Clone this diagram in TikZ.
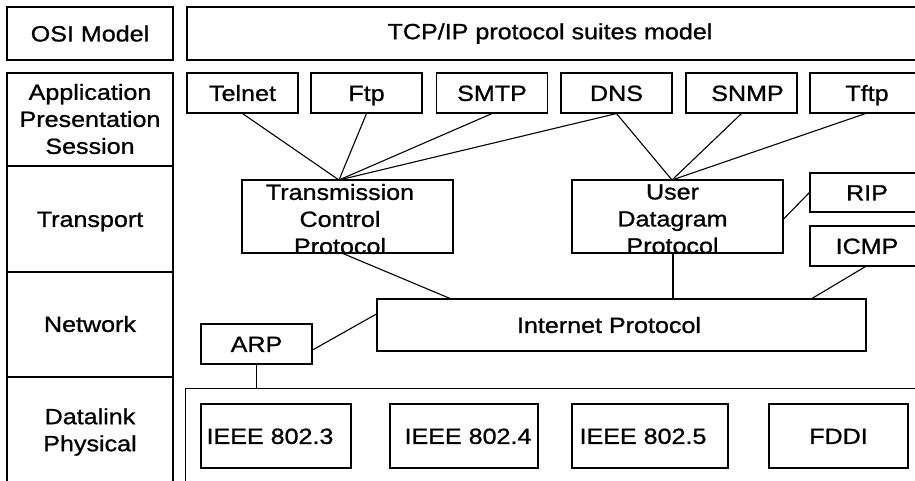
\documentclass[tikz,border=0pt]{standalone}
\usepackage{fontspec}
\setmainfont{Liberation Sans}[FakeStretch=1.14, FakeBold=1]
\usetikzlibrary{calc}
\tikzset{
  box/.style={draw, line width=1.1pt, inner sep=0pt, minimum height=40pt},
  appbox/.style={box, minimum width=111pt, text height=15.8pt, text depth=0pt},
  lanbox/.style={box, minimum width=#1, minimum height=64pt, text height=15.8pt, text depth=0pt},
  txt/.style={inner sep=0pt, align=center},
  link/.style={line width=1.1pt}
}
\begin{document}
\begin{tikzpicture}[x=1pt, y=-1pt, font=\fontsize{22}{27}\selectfont]
\useasboundingbox (0,0) rectangle (915,480);
\clip (0,0) rectangle (915,480);

% header row
\node[box, minimum width=166pt, minimum height=53pt, text height=15.8pt, text depth=0pt] (osi) at (90,33.5) {OSI Model};
\node[box, minimum width=743pt, minimum height=53pt] (suite) at (558.5,33.5) {};
\node[txt] (suitetext) at (550,33.5) {TCP/IP protocol suites model};

% OSI layer column
\draw[line width=1.1pt] (7,73) rectangle (173,500);
\draw[line width=1.1pt] (7,166) -- (173,166) (7,272) -- (173,272) (7,377) -- (173,377);
\node[txt] (l1) at (90,119) {Application\\Presentation\\Session};
\node[txt, text height=15.8pt, text depth=0pt] (l2) at (90,219) {Transport};
\node[txt, text height=15.8pt, text depth=0pt] (l3) at (90,324) {Network};
\node[txt] (l4) at (90,432) {Datalink\\Physical};

% application protocols
\node[appbox] (telnet) at (242.5,93) {Telnet};
\node[appbox] (ftp)    at (366.5,93) {Ftp};
\node[appbox] (smtp)   at (492,93)   {SMTP};
\node[appbox] (dns)    at (616.5,93) {DNS};
\node[appbox] (snmp)   at (741.5,93) {\hspace*{12pt}SNMP};
\node[appbox] (tftp)   at (865.5,93) {\hspace*{3pt}Tftp};

% transport protocols
\node[box, minimum width=211pt, minimum height=73pt] (tcp) at (347.5,216.5) {};
\node[txt] (tcptext) at (340,219) {Transmission\\Control\\Protocol};
\node[box, minimum width=211pt, minimum height=73pt] (udp) at (677.5,216.5) {};
\node[txt] (udptext) at (672.5,219) {User\\Datagram\\Protocol};
\coordinate (tcpin) at (339,180);
\coordinate (udpin) at (672,180);

\node[appbox, minimum height=39pt] (rip)  at (865.5,192.5) {\hspace*{3pt}RIP};
\node[appbox] (icmp) at (865.5,246) {\hspace*{3pt}ICMP};

% network layer
\node[box, minimum width=489pt, minimum height=52pt] (ip) at (621.5,325) {};
\node[txt, text height=15.8pt, text depth=0pt] (iptext) at (609,325) {Internet Protocol};
\node[appbox] (arp) at (256.5,344) {ARP};

% link layer
\node[box, minimum width=745pt, minimum height=120pt, anchor=north west] (lan) at (185,388) {};
\node[lanbox=150pt] (e3) at (276,436)   {\hspace*{-12pt}IEEE 802.3};
\node[lanbox=148pt] (e4) at (464,436)   {\hspace*{8pt}IEEE 802.4};
\node[lanbox=156pt] (e5) at (650,436)   {\hspace*{-14pt}IEEE 802.5};
\node[lanbox=139pt] (fd) at (838.5,436) {FDDI};

% connectors
\draw[link] (telnet.south) -- (tcpin);
\draw[link] (ftp.south) -- (tcpin);
\draw[link] (smtp.south) -- (tcpin);
\draw[link] (dns.south) -- (tcpin);
\draw[link] (dns.south) -- (udpin);
\draw[link] (snmp.south) -- (udpin);
\draw[link] (tftp.south) -- (udpin);
\draw[link] ($(udp.east)+(0,2.5)$) -- (rip.west);
\draw[link] (icmp.south) -- (ip.north -| 812,0);
\draw[link] (tcp.south -| 343,0) -- (ip.north -| 450,0);
\draw[link] (udp.south -| 673,0) -- (ip.north -| 673,0);
\draw[link] ($(arp.east)+(0,6)$) -- ($(ip.west)+(0,-11)$);
\draw[link] (arp.south) -- (arp.south |- lan.north);
\end{tikzpicture}
\end{document}
